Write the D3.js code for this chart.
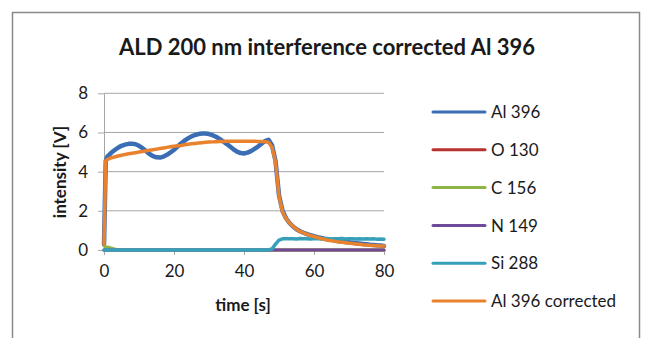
<!DOCTYPE html>
<html>
<head>
<meta charset="utf-8">
<script src="https://cdn.jsdelivr.net/npm/d3@7"></script>
<style>
  html, body { margin: 0; padding: 0; background: #fff; }
  svg { display: block; }
  text { font-family: Lato, "Open Sans", "DejaVu Sans", sans-serif; fill: #1a1a1a; }
</style>
</head>
<body>
<svg id="chart" width="648" height="338"></svg>
<script>
// time samples [s]
const time = [0, 0.5, 1, 2, 3, 4, 5, 6, 7, 8, 9, 10, 11, 12, 13, 14, 15, 16, 17, 18, 19, 20,
  21, 22, 23, 24, 25, 26, 27, 28, 29, 30, 31, 32, 33, 34, 35, 36, 37, 38, 39, 40,
  41, 42, 43, 44, 45, 46, 47, 48, 49, 50, 51, 52, 53, 54, 55, 56, 57, 58, 59, 60,
  61, 62, 63, 64, 65, 66, 67, 68, 69, 70, 71, 72, 73, 74, 75, 76, 77, 78, 79, 80];

// intensity [V] per emission line
const al396 = [0.3, 4.55, 4.78, 4.95, 5.1, 5.22, 5.32, 5.38, 5.42, 5.43, 5.4, 5.32, 5.2, 5.05, 4.9, 4.79, 4.73, 4.72, 4.77, 4.86, 4.98, 5.12,
  5.28, 5.44, 5.58, 5.7, 5.8, 5.87, 5.92, 5.95, 5.95, 5.92, 5.86, 5.78, 5.67, 5.55, 5.42, 5.28, 5.14, 5.02, 4.95, 4.93,
  4.97, 5.05, 5.16, 5.28, 5.42, 5.56, 5.63, 5.35, 4.55, 2.8, 2.0, 1.62, 1.38, 1.2, 1.06, 0.96, 0.88, 0.81, 0.76, 0.71,
  0.66, 0.62, 0.58, 0.55, 0.52, 0.49, 0.46, 0.43, 0.41, 0.39, 0.37, 0.35, 0.33, 0.31, 0.29, 0.27, 0.26, 0.24, 0.23, 0.21];

const o130 = [0, 0, 0, 0, 0, 0, 0, 0, 0, 0, 0, 0, 0, 0, 0, 0, 0, 0, 0, 0, 0, 0,
  0, 0, 0, 0, 0, 0, 0, 0, 0, 0, 0, 0, 0, 0, 0, 0, 0, 0, 0, 0,
  0, 0, 0, 0, 0, 0, 0, 0, 0, 0, 0, 0, 0, 0, 0, 0, 0, 0, 0, 0,
  0, 0, 0, 0, 0, 0, 0, 0, 0, 0, 0, 0, 0, 0, 0, 0, 0, 0, 0, 0];

const c156 = [0.2, 0.17, 0.15, 0.1, 0.05, 0.02, 0, 0, 0, 0, 0, 0, 0, 0, 0, 0, 0, 0, 0, 0, 0, 0,
  0, 0, 0, 0, 0, 0, 0, 0, 0, 0, 0, 0, 0, 0, 0, 0, 0, 0, 0, 0,
  0, 0, 0, 0, 0, 0, 0, 0, 0, 0, 0, 0, 0, 0, 0, 0, 0, 0, 0, 0,
  0, 0, 0, 0, 0, 0, 0, 0, 0, 0, 0, 0, 0, 0, 0, 0, 0, 0, 0, 0];

const n149 = [0, 0, 0, 0, 0, 0, 0, 0, 0, 0, 0, 0, 0, 0, 0, 0, 0, 0, 0, 0, 0, 0,
  0, 0, 0, 0, 0, 0, 0, 0, 0, 0, 0, 0, 0, 0, 0, 0, 0, 0, 0, 0,
  0, 0, 0, 0, 0, 0, 0, 0, 0, 0, 0, 0, 0, 0, 0, 0, 0, 0, 0, 0,
  0, 0, 0, 0, 0, 0, 0, 0, 0, 0, 0, 0, 0, 0, 0, 0, 0, 0, 0, 0];

const si288 = [0, 0, 0, 0, 0, 0, 0, 0, 0, 0, 0, 0, 0, 0, 0, 0, 0, 0, 0, 0, 0, 0,
  0, 0, 0, 0, 0, 0, 0, 0, 0, 0, 0, 0, 0, 0, 0, 0, 0, 0, 0, 0,
  0, 0, 0, 0, 0, 0, 0.01, 0.05, 0.3, 0.5, 0.57, 0.58, 0.57, 0.58, 0.56, 0.59, 0.57, 0.58, 0.56, 0.57,
  0.59, 0.56, 0.58, 0.57, 0.56, 0.58, 0.57, 0.59, 0.56, 0.57, 0.58, 0.56, 0.57, 0.56, 0.58, 0.56, 0.57, 0.55, 0.56, 0.55];

const al396corr = [0.3, 4.55, 4.63, 4.7, 4.75, 4.8, 4.84, 4.88, 4.91, 4.94, 4.97, 5.0, 5.03, 5.06, 5.09, 5.12, 5.15, 5.18, 5.21, 5.24, 5.27, 5.3,
  5.32, 5.34, 5.37, 5.4, 5.42, 5.44, 5.46, 5.48, 5.5, 5.51, 5.52, 5.53, 5.54, 5.54, 5.55, 5.55, 5.55, 5.55, 5.55, 5.55,
  5.55, 5.55, 5.55, 5.54, 5.54, 5.53, 5.5, 5.25, 4.5, 2.75, 1.95, 1.6, 1.38, 1.2, 1.06, 0.95, 0.87, 0.8, 0.74, 0.69,
  0.64, 0.59, 0.54, 0.5, 0.47, 0.44, 0.41, 0.39, 0.37, 0.35, 0.33, 0.31, 0.29, 0.27, 0.26, 0.24, 0.23, 0.22, 0.21, 0.2];

const seriesNames = ["Al 396", "O 130", "C 156", "N 149", "Si 288", "Al 396 corrected"];
const seriesValues = [al396, o130, c156, n149, si288, al396corr];
const seriesColors = ["#3b6db4", "#b8332f", "#8db445", "#6e4a9b", "#36a0ba", "#e8822f"];
const seriesWidths = [4.5, 3, 3, 3, 3.5, 3.5];

const xTicks = [0, 20, 40, 60, 80];
const yTicks = [0, 2, 4, 6, 8];

const titleText = "ALD 200 nm interference corrected Al 396";
const xLabel = "time [s]";
const yLabel = "intensity [V]";

const svg = d3.select("#chart");

// outer chart frame
svg.append("rect")
  .attr("x", 12.5).attr("y", 12.5)
  .attr("width", 627).attr("height", 340)
  .attr("fill", "#fff")
  .attr("stroke", "#8a8a8a")
  .attr("stroke-width", 1.5);

const x = d3.scaleLinear().domain([0, 80]).range([104, 384]);
const y = d3.scaleLinear().domain([0, 8]).range([250, 93.3]);

// horizontal gridlines
svg.append("g")
  .selectAll("line")
  .data(yTicks.filter(d => d > 0))
  .join("line")
  .attr("x1", x(0)).attr("x2", x(80))
  .attr("y1", d => y(d)).attr("y2", d => y(d))
  .attr("stroke", "#a6a6a6").attr("stroke-width", 1);

// y axis
const yAxis = svg.append("g")
  .attr("transform", `translate(${x(0)},0)`)
  .call(d3.axisLeft(y).tickValues(yTicks).tickSize(6).tickSizeOuter(0).tickPadding(10));
yAxis.select(".domain").attr("stroke", "#a6a6a6");
yAxis.selectAll(".tick line").attr("stroke", "#a6a6a6");
yAxis.selectAll(".tick text")
  .style("font-family", "Lato, sans-serif").style("font-size", "17px").attr("fill", "#1a1a1a");

// x axis
const xAxis = svg.append("g")
  .attr("transform", `translate(0,${y(0)})`)
  .call(d3.axisBottom(x).tickValues(xTicks).tickSize(5).tickSizeOuter(0).tickPadding(10));
xAxis.select(".domain").attr("stroke", "#a6a6a6");
xAxis.selectAll(".tick line").attr("stroke", "#a6a6a6");
xAxis.selectAll(".tick text")
  .style("font-family", "Lato, sans-serif").style("font-size", "17px").attr("fill", "#1a1a1a");

// data lines
const line = d3.line()
  .x((d, i) => x(time[i]))
  .y(d => y(d));

svg.append("g")
  .selectAll("path")
  .data(seriesValues)
  .join("path")
  .attr("d", d => line(d))
  .attr("fill", "none")
  .attr("stroke", (d, i) => seriesColors[i])
  .attr("stroke-width", (d, i) => seriesWidths[i])
  .attr("stroke-linejoin", "round")
  .attr("stroke-linecap", "round");

// title
svg.append("text")
  .attr("x", 327).attr("y", 55)
  .attr("text-anchor", "middle")
  .style("font-size", "22px").style("font-weight", "bold")
  .text(titleText);

// axis titles
svg.append("text")
  .attr("x", 243).attr("y", 311)
  .attr("text-anchor", "middle")
  .style("font-size", "17px").style("font-weight", "bold")
  .text(xLabel);

svg.append("text")
  .attr("transform", "translate(66,172) rotate(-90)")
  .attr("text-anchor", "middle")
  .style("font-size", "17px").style("font-weight", "bold")
  .text(yLabel);

// legend
const legend = svg.append("g")
  .selectAll("g")
  .data(seriesNames)
  .join("g")
  .attr("transform", (d, i) => `translate(433,${112 + i * 37.8})`);

legend.append("line")
  .attr("x1", 0).attr("x2", 52)
  .attr("stroke", (d, i) => seriesColors[i])
  .attr("stroke-width", 3)
  .attr("stroke-linecap", "round");

legend.append("text")
  .attr("x", 58).attr("y", 0)
  .attr("dy", "0.36em")
  .style("font-size", "17px")
  .text(d => d);
</script>
</body>
</html>
